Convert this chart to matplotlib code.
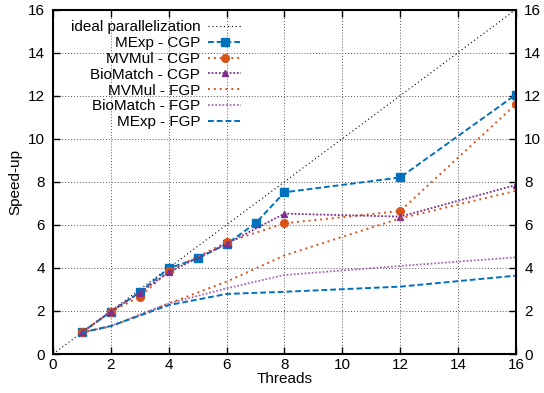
from matplotlib import pyplot as plt
import numpy as np

plt.rcParams['font.family'] = ['Liberation Sans', 'DejaVu Sans']

BLUE = '#0072bd'
ORANGE = '#d95319'
PURPLE = '#7e2f8e'
LPURPLE = '#a56cb3'

ideal_x = [0, 16]
ideal_y = [0, 16]

mexp_cgp_x = [1, 2, 3, 4, 5, 6, 7, 8, 12, 16]
mexp_cgp_y = [1.0, 1.97, 2.87, 3.98, 4.44, 5.11, 6.07, 7.51, 8.2, 12.05]

mvmul_cgp_x = [1, 2, 3, 4, 6, 8, 12, 16]
mvmul_cgp_y = [1.0, 1.97, 2.66, 3.85, 5.19, 6.07, 6.64, 11.6]

bio_cgp_x = [1, 2, 3, 4, 6, 8, 12, 16]
bio_cgp_y = [1.0, 1.97, 2.84, 3.8, 5.12, 6.52, 6.38, 7.85]

fgp_x = [1, 2, 4, 6, 8, 12, 16]
mvmul_fgp_y = [1.0, 1.28, 2.35, 3.36, 4.58, 6.3, 7.58]
bio_fgp_y = [1.0, 1.3, 2.35, 3.05, 3.67, 4.09, 4.49]
mexp_fgp_y = [1.0, 1.3, 2.27, 2.79, 2.89, 3.13, 3.64]


def main():
    fig = plt.figure(figsize=(5.44, 3.93), dpi=100)
    ax = fig.add_axes([0.0974, 0.0992, 0.851, 0.8766])

    ax.plot(ideal_x, ideal_y, color='black', lw=0.8, linestyle=(0, (1, 2.5)),
            label='ideal parallelization')
    ax.plot(mexp_cgp_x, mexp_cgp_y, color=BLUE, lw=1.4, linestyle=(0, (3, 1.5)),
            marker='s', ms=5.5, label='MExp - CGP')
    ax.plot(mvmul_cgp_x, mvmul_cgp_y, color=ORANGE, lw=1.4, linestyle=(0, (1, 2)),
            marker='o', ms=5.5, label='MVMul - CGP')
    ax.plot(bio_cgp_x, bio_cgp_y, color=PURPLE, lw=1.3, linestyle=(0, (1, 1)),
            marker='^', ms=5, label='BioMatch - CGP')
    ax.plot(fgp_x, mvmul_fgp_y, color=ORANGE, lw=1.4, linestyle=(0, (1, 2)),
            label='MVMul - FGP')
    ax.plot(fgp_x, bio_fgp_y, color=LPURPLE, lw=1.3, linestyle=(0, (1, 1)),
            label='BioMatch - FGP')
    ax.plot(fgp_x, mexp_fgp_y, color=BLUE, lw=1.4, linestyle=(0, (3, 1.5)),
            label='MExp - FGP')

    ax.set_xlim(0, 16)
    ax.set_ylim(0, 16)
    ax.set_xticks(np.arange(0, 17, 2))
    ax.set_yticks(np.arange(0, 17, 2))
    ax.tick_params(direction='in', length=5, width=1, labelsize=11,
                   top=True, right=True, labelright=True)
    ax.tick_params(axis='y', pad=6)
    ax.tick_params(axis='x', pad=3)
    ax.grid(True, color='#555555', linestyle=(0, (1, 2)), lw=0.7)
    for s in ax.spines.values():
        s.set_linewidth(1.5)

    ax.set_xlabel('Threads', fontsize=11, labelpad=0)
    ax.set_ylabel('Speed-up', fontsize=11, labelpad=4)

    ax.legend(loc='upper left', bbox_to_anchor=(0.015, 1.0), frameon=False,
              markerfirst=False, fontsize=11, handlelength=2.2,
              labelspacing=0.12, handletextpad=0.5, borderaxespad=0.3)

    fig.savefig('out.png', dpi=100)


if __name__ == '__main__':
    main()
